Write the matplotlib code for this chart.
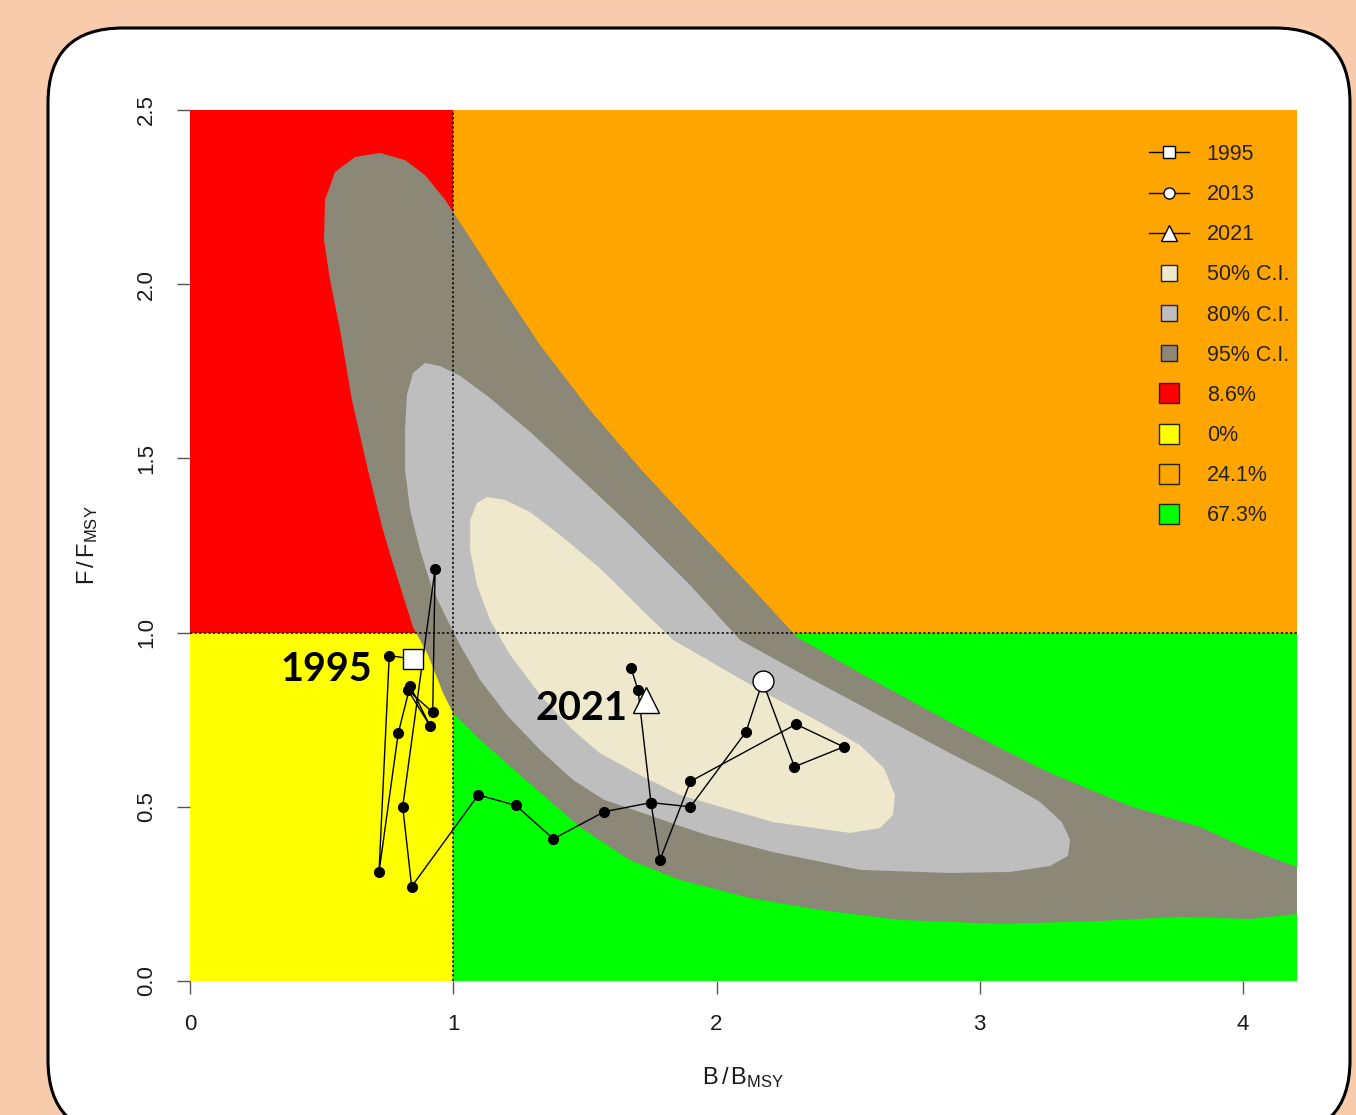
import matplotlib
matplotlib.use("Agg")
import matplotlib.pyplot as plt
from matplotlib.patches import FancyBboxPatch, Rectangle
from matplotlib.lines import Line2D

plt.rcParams['font.family'] = ['Liberation Sans', 'DejaVu Sans']
plt.rcParams['mathtext.fontset'] = 'custom'
plt.rcParams['mathtext.rm'] = 'Liberation Sans'
plt.rcParams['mathtext.it'] = 'Liberation Sans:italic'

# ---- data ----
# stock trajectory 1995-2021 (B/Bmsy, F/Fmsy)
b_ratio = [0.848, 0.757, 0.718, 0.791, 0.836, 0.912, 0.828, 0.922, 0.931, 0.808,
           0.842, 1.095, 1.238, 1.380, 1.574, 1.751, 1.901, 2.112, 2.175, 2.296,
           2.483, 2.302, 1.901, 1.785, 1.751, 1.702, 1.676]
f_ratio = [0.924, 0.934, 0.313, 0.711, 0.847, 0.732, 0.835, 0.771, 1.182, 0.500,
           0.271, 0.534, 0.504, 0.408, 0.486, 0.512, 0.500, 0.715, 0.860, 0.615,
           0.672, 0.737, 0.573, 0.347, 0.512, 0.834, 0.897]

# highlighted years
sym_labels = ['1995', '2013', '2021']
sym_b = [0.848, 2.175, 1.731]
sym_f = [0.924, 0.860, 0.807]
sym_markers = ['s', 'o', '^']
sym_sizes = [14, 15, 19]

# confidence region outlines (B/Bmsy, F/Fmsy)
ci95_b = [0.722, 0.817, 0.893, 0.969, 1.064, 1.178, 1.330, 1.519, 1.709, 1.899,
          2.089, 2.306, 2.545, 2.887, 3.077, 3.267, 3.571, 3.837, 4.000, 4.205,
          4.368, 4.368, 4.205, 4.027, 3.875, 3.761, 3.457, 3.077, 2.697, 2.393,
          2.127, 1.861, 1.671, 1.481, 1.254, 1.102, 0.999, 0.961, 0.904, 0.847,
          0.767, 0.733, 0.676, 0.615, 0.570, 0.532, 0.509, 0.513, 0.551, 0.627]
ci95_f = [2.377, 2.356, 2.313, 2.242, 2.133, 1.998, 1.825, 1.639, 1.472, 1.317,
          1.165, 0.987, 0.884, 0.743, 0.669, 0.597, 0.502, 0.442, 0.385, 0.327,
          0.284, 0.189, 0.192, 0.178, 0.181, 0.184, 0.172, 0.164, 0.175, 0.204,
          0.238, 0.290, 0.347, 0.442, 0.591, 0.692, 0.769, 0.827, 0.936, 1.016,
          1.208, 1.294, 1.467, 1.668, 1.869, 2.012, 2.127, 2.242, 2.322, 2.365]

ci80_b = [0.893, 0.950, 1.026, 1.140, 1.292, 1.481, 1.671, 1.899, 2.089, 2.317,
          2.545, 2.887, 3.077, 3.229, 3.312, 3.343, 3.335, 3.267, 3.115, 2.887,
          2.545, 2.215, 1.964, 1.861, 1.709, 1.573, 1.455, 1.330, 1.204, 1.102,
          1.026, 0.972, 0.919, 0.874, 0.836, 0.817, 0.817, 0.824, 0.847]
ci80_f = [1.774, 1.765, 1.737, 1.673, 1.576, 1.444, 1.309, 1.137, 0.979, 0.884,
          0.792, 0.654, 0.580, 0.514, 0.456, 0.405, 0.359, 0.330, 0.313, 0.310,
          0.319, 0.370, 0.419, 0.445, 0.485, 0.520, 0.577, 0.663, 0.763, 0.864,
          0.964, 1.045, 1.128, 1.237, 1.352, 1.467, 1.582, 1.682, 1.745]

ci50_b = [1.128, 1.197, 1.292, 1.406, 1.557, 1.709, 1.835, 2.013, 2.165, 2.393,
          2.545, 2.636, 2.678, 2.670, 2.621, 2.507, 2.215, 1.964, 1.861, 1.709,
          1.557, 1.455, 1.330, 1.216, 1.140, 1.090, 1.064, 1.064, 1.090]
ci50_f = [1.389, 1.381, 1.346, 1.280, 1.185, 1.071, 0.979, 0.901, 0.835, 0.743,
          0.677, 0.611, 0.534, 0.476, 0.439, 0.425, 0.456, 0.511, 0.534, 0.591,
          0.654, 0.720, 0.821, 0.936, 1.036, 1.137, 1.237, 1.323, 1.372]

quad_labels = ['8.6%', '0%', '24.1%', '67.3%']
ci_labels = ['50% C.I.', '80% C.I.', '95% C.I.']

x_max = 4.205
y_max = 2.5

fig = plt.figure(figsize=(13.56, 11.15), dpi=100)
fig.patch.set_facecolor('#F8CBAD')

card = FancyBboxPatch((0.48, -0.2), 13.02, 11.07,
                      boxstyle="round,pad=0,rounding_size=0.75",
                      transform=fig.dpi_scale_trans, fc='white', ec='black',
                      lw=2.2, zorder=-10)
fig.add_artist(card)

ax = fig.add_axes([190 / 1356, 1 - 981 / 1115, 1107 / 1356, 871 / 1115])
ax.set_facecolor('none')

# quadrants
ax.add_patch(Rectangle((0, 1), 1, y_max - 1, fc='#FF0000', ec='none', zorder=0))
ax.add_patch(Rectangle((0, 0), 1, 1, fc='#FFFF00', ec='none', zorder=0))
ax.add_patch(Rectangle((1, 1), x_max - 1, y_max - 1, fc='#FFA500', ec='none', zorder=0))
ax.add_patch(Rectangle((1, 0), x_max - 1, 1, fc='#00FF00', ec='none', zorder=0))

# confidence regions
ax.fill(ci95_b, ci95_f, color='#8B8878', lw=0, zorder=1)
ax.fill(ci80_b, ci80_f, color='#BEBEBE', lw=0, zorder=1)
ax.fill(ci50_b, ci50_f, color='#EEE8CD', lw=0, zorder=1)

ax.plot([1, 1], [0, y_max], color='black', ls=(0, (1.5, 1.5)), lw=1.1, zorder=2)
ax.plot([0, x_max], [1, 1], color='black', ls=(0, (1.5, 1.5)), lw=1.1, zorder=2)

# trajectory
ax.plot(b_ratio, f_ratio, '-o', color='black', lw=1.0, ms=7, zorder=3)
for lab, xb, yf, mk, ms in zip(sym_labels, sym_b, sym_f, sym_markers, sym_sizes):
    ax.plot([xb], [yf], marker=mk, ms=ms, mfc='white', mec='black', mew=1.0,
            ls='none', zorder=4)

ax.text(sym_b[0] - 0.155, sym_f[0] - 0.03, sym_labels[0], ha='right', va='center',
        fontsize=28.5, fontweight='bold', family='Lato', zorder=5)
ax.text(sym_b[2] - 0.07, sym_f[2] - 0.025, sym_labels[2], ha='right', va='center',
        fontsize=28.5, fontweight='bold', family='Lato', zorder=5)

ax.set_xlim(0, x_max)
ax.set_ylim(0, y_max)
for s in ax.spines.values():
    s.set_visible(False)
ax.set_xticks([0, 1, 2, 3, 4])
ax.set_yticks([0, 0.5, 1.0, 1.5, 2.0, 2.5])
ax.set_yticklabels(['0.0', '0.5', '1.0', '1.5', '2.0', '2.5'], rotation=90, va='center')
ax.tick_params(length=9.5, width=1.0, color='#555555', labelsize=16,
               labelcolor='#1a1a1a', pad=14)

fig.text(743 / 1356, 1 - 1078 / 1115, r'$\mathrm{B\,/\,B_{MSY}}$', ha='center',
         va='center', fontsize=17, color='#1a1a1a')
fig.text(88 / 1356, 1 - 545 / 1115, r'$\mathrm{F\,/\,F_{MSY}}$', ha='center',
         va='center', fontsize=17, color='#1a1a1a', rotation=90)

# legend
handles = []
for lab, mk, ms in zip(sym_labels, sym_markers, [8, 8, 12]):
    handles.append(Line2D([], [], color='black', lw=1, marker=mk, ms=ms,
                          mfc='white', mec='black'))
for c in ['#EEE8CD', '#BEBEBE', '#8B8878']:
    handles.append(Line2D([], [], ls='none', marker='s', ms=11, mfc=c, mec='#222222'))
for c in ['#FF0000', '#FFFF00', '#FFA500', '#00FF00']:
    handles.append(Line2D([], [], ls='none', marker='s', ms=15, mfc=c, mec='#222222'))
labels = sym_labels + ci_labels + quad_labels
ax.legend(handles, labels, loc='upper left', bbox_to_anchor=(0.866, 0.961),
          frameon=False, fontsize=15.5, handlelength=1.86, handletextpad=0.84,
          labelspacing=0.89, borderpad=0, borderaxespad=0, labelcolor='#222222')

fig.savefig('out.png', dpi=100, facecolor=fig.get_facecolor())
